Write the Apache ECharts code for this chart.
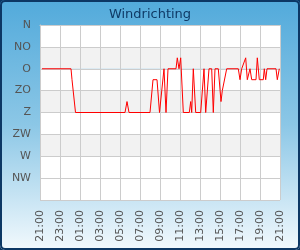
<!DOCTYPE html>
<html>
<head>
<meta charset="utf-8">
<script src="https://cdn.jsdelivr.net/npm/echarts@6/dist/echarts.min.js"></script>
<style>
  html, body { margin: 0; padding: 0; background: #0c3764; }
  #chart {
    position: absolute; left: 0; top: 0; width: 300px; height: 250px;
    border-radius: 5px;
    background: linear-gradient(to bottom, #52aadb 0%, #8cc7e6 50%, #f2f9fd 100%);
  }
  #frame {
    position: absolute; left: 0; top: 0; width: 300px; height: 250px;
    box-sizing: border-box; border: 2px solid #0c3764; border-radius: 5px;
    pointer-events: none;
  }
</style>
</head>
<body>
<div id="chart"></div>
<div id="frame"></div>
<script>
// uren sinds 21:00
var hours = [0.2, 3.1, 3.2, 3.35, 3.55, 8.5, 8.7, 8.9, 11.0, 11.3, 11.7, 11.95,
    12.4, 12.6, 12.8, 13.6, 13.73, 13.9, 14.07, 14.33, 14.93, 15.07, 15.17, 15.33,
    15.57, 16.07, 16.4, 16.57, 16.9, 17.17, 17.33, 17.5, 17.83, 18.1, 18.23, 18.67,
    19.83, 20.0, 20.17, 20.57, 20.73, 21.0, 21.17, 21.6, 21.73, 21.93, 22.33, 22.43,
    22.57, 22.7, 23.6, 23.73, 23.93];
// windrichting in graden
var degrees = [90, 90, 112.5, 112.5, 180, 180, 157.5, 180, 180, 112.5, 112.5, 180,
    90, 180, 90, 90, 67.5, 90, 67.5, 180, 180, 157.5, 180, 90,
    180, 180, 90, 180, 90, 90, 180, 90, 90, 157.5, 135, 90,
    90, 112.5, 90, 67.5, 112.5, 90, 112.5, 112.5, 67.5, 112.5, 112.5, 90,
    112.5, 90, 90, 112.5, 90];
var dirLabels = ['N', 'NO', 'O', 'ZO', 'Z', 'ZW', 'W', 'NW', ''];
var startHour = 21;

var chart = echarts.init(document.getElementById('chart'));
var option = {
    backgroundColor: 'transparent',
    animation: false,
    title: {
        text: 'Windrichting',
        left: 'center',
        top: 3,
        textStyle: {
            fontFamily: 'DejaVu Sans',
            fontSize: 13,
            fontWeight: 'normal',
            color: '#0f3a66'
        }
    },
    grid: {
        left: 40,
        right: 20,
        top: 25,
        bottom: 50
    },
    xAxis: {
        type: 'value',
        min: 0,
        max: 24,
        interval: 2,
        axisLine: { show: true, lineStyle: { color: '#cccccc' } },
        axisTick: { show: false },
        splitLine: { show: true, lineStyle: { color: '#cccccc' } },
        axisLabel: {
            rotate: 90,
            margin: 10,
            color: '#555',
            fontFamily: 'DejaVu Sans',
            fontSize: 11,
            formatter: function (v) {
                var h = (startHour + v) % 24;
                return (h < 10 ? '0' : '') + h + ':00';
            }
        }
    },
    yAxis: {
        type: 'value',
        inverse: true,
        min: 0,
        max: 360,
        interval: 45,
        axisLine: { show: true, lineStyle: { color: '#cccccc' } },
        axisTick: { show: false },
        splitLine: { show: true, lineStyle: { color: '#cccccc' } },
        splitArea: {
            show: true,
            areaStyle: {
                color: ['#ffffff', '#f2f2f2', '#ffffff', '#f2f2f2', '#ffffff', '#f2f2f2', '#ffffff', '#ffffff']
            }
        },
        axisLabel: {
            margin: 9,
            color: '#555',
            fontFamily: 'DejaVu Sans',
            fontSize: 11,
            formatter: function (v) {
                return dirLabels[Math.round(v / 45)];
            }
        }
    },
    series: [
        {
            type: 'line',
            symbol: 'none',
            lineStyle: { color: '#ff0000', width: 1 },
            data: hours.map(function (h, i) {
                return [h, degrees[i]];
            })
        }
    ]
};
chart.setOption(option);
</script>
</body>
</html>
